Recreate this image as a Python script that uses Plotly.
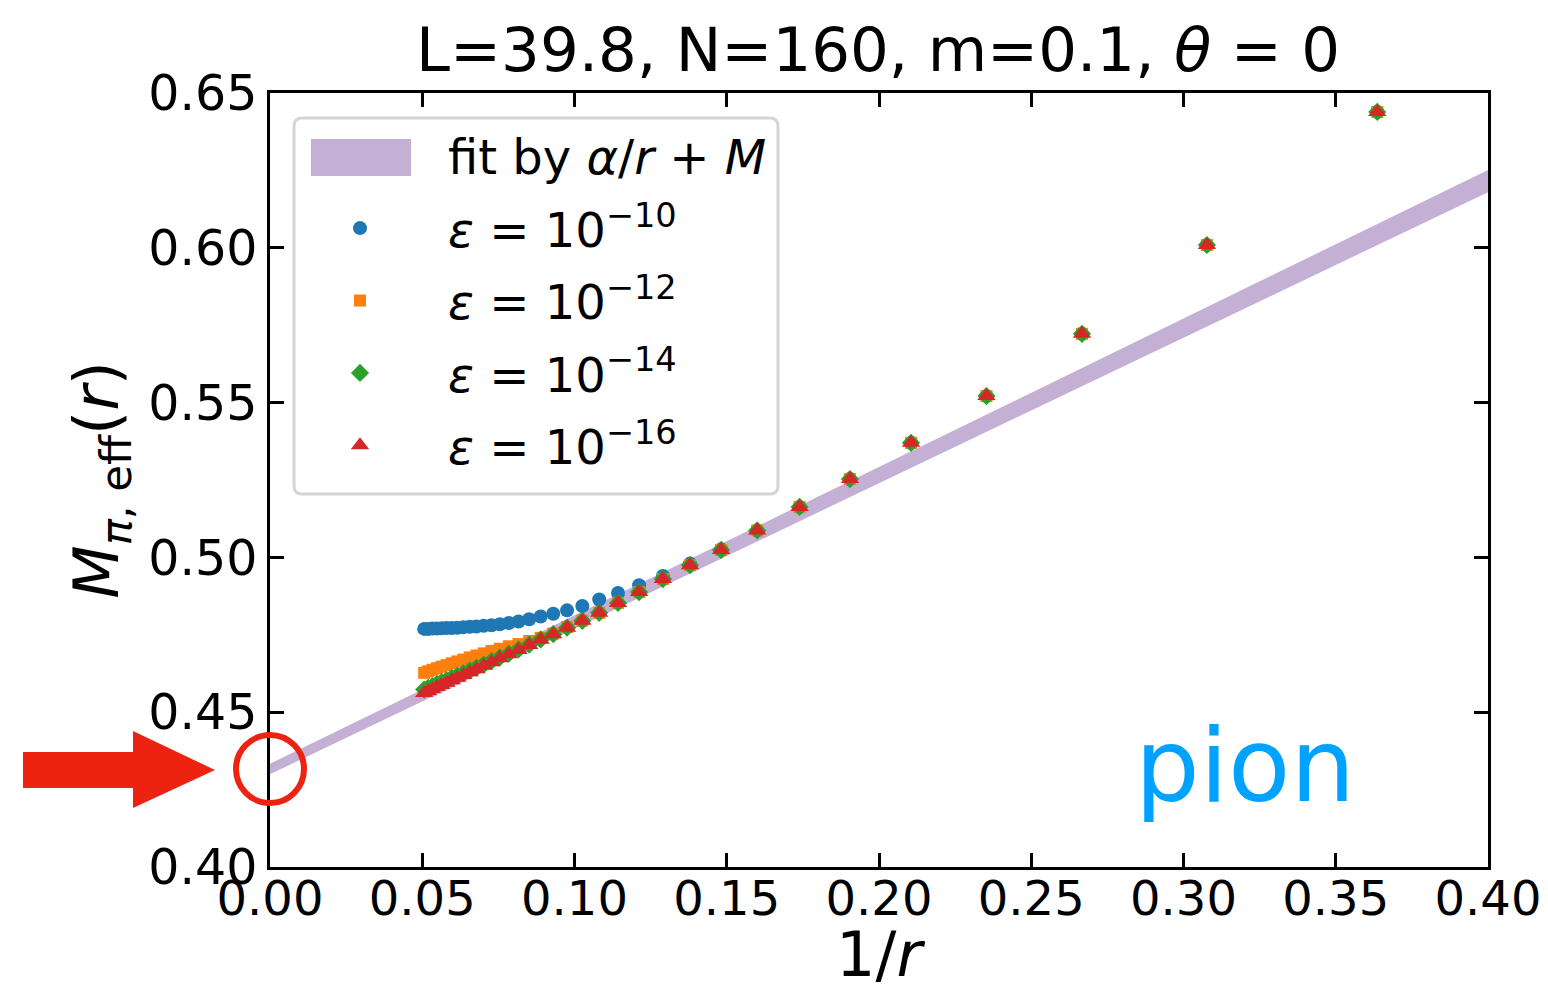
import plotly.graph_objects as go
import numpy as np

# ---------------- data ----------------
r_values = [2.75, 3.25, 3.75, 4.25, 4.75, 5.25, 5.75, 6.25, 6.75, 7.25, 7.75, 8.25,
            8.75, 9.25, 9.75, 10.25, 10.75, 11.25, 11.75, 12.25, 12.75, 13.25, 13.75,
            14.25, 14.75, 15.25, 15.75, 16.25, 16.75, 17.25, 17.75, 18.25, 18.75,
            19.25, 19.75]

m_eps10 = [0.6439, 0.6009, 0.5722, 0.5521, 0.5370, 0.5253, 0.5163, 0.5087, 0.5026,
           0.4980, 0.4940, 0.4910, 0.4885, 0.4864, 0.4843, 0.4829, 0.4818, 0.4809,
           0.4800, 0.4793, 0.4788, 0.4784, 0.4781, 0.4779, 0.4777, 0.4776, 0.4774,
           0.4773, 0.4772, 0.4772, 0.4771, 0.4770, 0.4770, 0.4769, 0.4769]

m_eps12 = [0.6439, 0.6009, 0.5722, 0.5521, 0.5370, 0.5253, 0.5163, 0.5087, 0.5024,
           0.4975, 0.4930, 0.4888, 0.4853, 0.4821, 0.4796, 0.4775, 0.4754, 0.4740,
           0.4730, 0.4720, 0.4713, 0.4705, 0.4698, 0.4690, 0.4683, 0.4677, 0.4670,
           0.4664, 0.4658, 0.4652, 0.4647, 0.4642, 0.4637, 0.4632, 0.4627]

m_eps14 = [0.6439, 0.6009, 0.5722, 0.5521, 0.5370, 0.5253, 0.5163, 0.5087, 0.5024,
           0.4975, 0.4930, 0.4888, 0.4853, 0.4821, 0.4795, 0.4773, 0.4752, 0.4735,
           0.4718, 0.4703, 0.4689, 0.4677, 0.4665, 0.4654, 0.4644, 0.4635, 0.4626,
           0.4618, 0.4611, 0.4603, 0.4597, 0.4591, 0.4584, 0.4579, 0.4573]

m_eps16 = [0.6439, 0.6009, 0.5722, 0.5521, 0.5370, 0.5253, 0.5163, 0.5087, 0.5024,
           0.4975, 0.4930, 0.4888, 0.4853, 0.4821, 0.4795, 0.4773, 0.4752, 0.4734,
           0.4717, 0.4701, 0.4687, 0.4674, 0.4661, 0.4650, 0.4639, 0.4629, 0.4620,
           0.4611, 0.4603, 0.4595, 0.4588, 0.4581, 0.4574, 0.4568, 0.4562]

# fit  M_eff = alpha / r + M
fit_M, fit_dM = 0.43165, 0.0017
fit_alpha, fit_dalpha = 0.4747, 0.0047
fit_name = "fit by <i>α</i>/<i>r</i> + <i>M</i>"

series_names = ["<i>ε</i> = 10<sup>−10</sup>", "<i>ε</i> = 10<sup>−12</sup>",
                "<i>ε</i> = 10<sup>−14</sup>", "<i>ε</i> = 10<sup>−16</sup>"]
series_colors = ["#1f77b4", "#ff7f0e", "#2ca02c", "#d62728"]
series_symbols = ["circle", "square", "diamond", "triangle-up"]
series_sizes = [14, 12, 14, 16]

x_ticks = [0.00, 0.05, 0.10, 0.15, 0.20, 0.25, 0.30, 0.35, 0.40]
y_ticks = [0.40, 0.45, 0.50, 0.55, 0.60, 0.65]

# ---------------- figure ----------------
inv_r = [1.0 / r for r in r_values]

W, H = 1548, 991
L_, R_, T_, B_ = 270, 60, 93, 124
PW, PH = W - L_ - R_, H - T_ - B_
BAND = "#c5b0d5"

def px(xp):
    return (xp - L_) / PW

def py(yp):
    return (H - B_ - yp) / PH

fig = go.Figure()

# fit band as a closed polygon (upper edge forward, lower edge back)
xf = np.linspace(0.0, 0.40, 50)
lower = (fit_M - fit_dM) + (fit_alpha - fit_dalpha) * xf
upper = (fit_M + fit_dM) + (fit_alpha + fit_dalpha) * xf
fig.add_trace(go.Scatter(x=np.concatenate([xf, xf[::-1]]),
                         y=np.concatenate([upper, lower[::-1]]),
                         mode="lines", line=dict(width=0, color=BAND),
                         fill="toself", fillcolor=BAND,
                         showlegend=False, hoverinfo="skip"))
# legend entry of the fit (its wide swatch is drawn as a shape below)
fig.add_trace(go.Scatter(x=[None], y=[None], mode="lines", line=dict(width=0, color=BAND),
                         name=fit_name, legendgroup="fit"))

for name, ys, c, s, sz in zip(series_names, [m_eps10, m_eps12, m_eps14, m_eps16],
                              series_colors, series_symbols, series_sizes):
    fig.add_trace(go.Scatter(x=inv_r, y=ys, mode="markers", name=name, legendgroup=name,
                             marker=dict(color=c, symbol=s, size=sz, line=dict(width=0))))

axis_common = dict(
    showline=True, linecolor="black", linewidth=2.5, mirror="ticks",
    ticks="inside", ticklen=14, tickwidth=2.5, tickcolor="black",
    showgrid=False, zeroline=False,
)

fig.update_layout(
    width=W, height=H,
    margin=dict(l=L_, r=R_, t=T_, b=B_, autoexpand=False),
    paper_bgcolor="white", plot_bgcolor="white",
    title=dict(text="L=39.8, N=160, m=0.1, <i>θ</i> = 0", x=px(878), xref="paper",
               xanchor="center", y=1 - 50 / H, yref="container", yanchor="middle",
               font=dict(family="DejaVu Sans", size=61, color="black")),
    xaxis=dict(range=[0, 0.40], tickvals=x_ticks, tickformat=".2f",
               ticklabelstandoff=-12,
               tickfont=dict(family="DejaVu Sans", size=48, color="black"),
               title=dict(text="1/<i>r</i>", standoff=14,
                          font=dict(family="DejaVu Sans", size=62, color="black")),
               **axis_common),
    yaxis=dict(range=[0.40, 0.65], tickvals=y_ticks, tickformat=".2f",
               tickfont=dict(family="DejaVu Sans", size=49, color="black"),
               title=dict(text="<i>M</i><sub><i>π</i>, eff</sub>(<i>r</i>)", standoff=10,
                          font=dict(family="DejaVu Sans", size=62, color="black")),
               **axis_common),
    legend=dict(x=px(272), y=py(118), xanchor="left", yanchor="top",
                bgcolor="rgba(0,0,0,0)", borderwidth=0,
                font=dict(family="DejaVu Sans", size=48, color="black"),
                tracegroupgap=7, itemwidth=166),
    showlegend=True,
)

# legend frame (rounded corners) and wide swatch for the fit band
def rounded_rect(a, b, c, d, rad):
    return (f"M {px(a + rad):.5f},{py(c):.5f} L {px(b - rad):.5f},{py(c):.5f} "
            f"Q {px(b):.5f},{py(c):.5f} {px(b):.5f},{py(c + rad):.5f} "
            f"L {px(b):.5f},{py(d - rad):.5f} Q {px(b):.5f},{py(d):.5f} {px(b - rad):.5f},{py(d):.5f} "
            f"L {px(a + rad):.5f},{py(d):.5f} Q {px(a):.5f},{py(d):.5f} {px(a):.5f},{py(d - rad):.5f} "
            f"L {px(a):.5f},{py(c + rad):.5f} Q {px(a):.5f},{py(c):.5f} {px(a + rad):.5f},{py(c):.5f} Z")

fig.add_shape(type="path", path=rounded_rect(294, 778, 118, 494, 8), xref="paper", yref="paper",
              fillcolor="white", line=dict(color="#d5d5d5", width=3), layer="above")
fig.add_shape(type="rect", xref="paper", yref="paper", x0=px(311), x1=px(411),
              y0=py(176), y1=py(139), fillcolor=BAND, line=dict(width=0), layer="above")

# red arrow pointing at the intercept
arrow_pts = [(23, 752), (133, 752), (133, 731), (215, 770), (133, 808), (133, 788), (23, 788)]
path = "M " + " L ".join(f"{px(a):.5f},{py(b):.5f}" for a, b in arrow_pts) + " Z"
fig.add_shape(type="path", path=path, xref="paper", yref="paper",
              fillcolor="#ee2211", line=dict(width=0))
# circle around the intercept
fig.add_shape(type="circle", xref="paper", yref="paper",
              x0=px(236), x1=px(304), y0=py(803), y1=py(735),
              line=dict(color="#ee2211", width=6), fillcolor="rgba(0,0,0,0)")

fig.add_annotation(text="pion", x=px(1245), y=py(765), xref="paper", yref="paper",
                   xanchor="center", yanchor="middle", showarrow=False,
                   font=dict(family="DejaVu Sans", size=102, color="#00a2ff"))

fig.write_html("out.html", config={"displayModeBar": False},
               post_script="document.body.style.margin='0';document.body.style.overflow='hidden';")
